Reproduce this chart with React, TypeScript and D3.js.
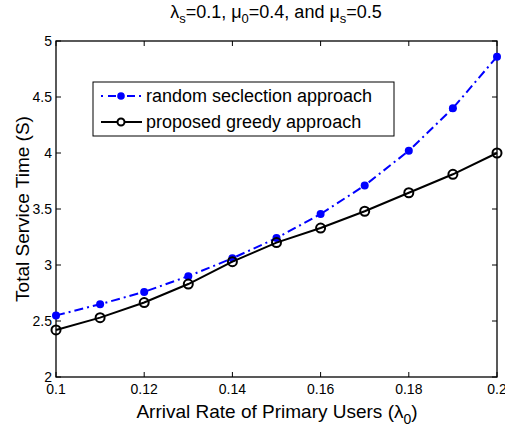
import * as d3 from "d3";

const xs = [0.1, 0.11, 0.12, 0.13, 0.14, 0.15, 0.16, 0.17, 0.18, 0.19, 0.2];
const randomApproach = [2.55, 2.65, 2.76, 2.9, 3.06, 3.24, 3.455, 3.71, 4.02, 4.4, 4.86];
const greedyApproach = [2.42, 2.53, 2.665, 2.83, 3.03, 3.2, 3.33, 3.48, 3.645, 3.81, 4.0];
const xTicks = [0.1, 0.12, 0.14, 0.16, 0.18, 0.2];
const yTicks = [2, 2.5, 3, 3.5, 4, 4.5, 5];
const legendLabels = ["random seclection approach", "proposed greedy approach"];

export default function App() {
  const width = 505,
    height = 426;
  const m = { left: 56, right: 497, top: 41, bottom: 377 };
  const x = d3.scaleLinear().domain([0.1, 0.2]).range([m.left, m.right]);
  const y = d3.scaleLinear().domain([2, 5]).range([m.bottom, m.top]);
  const line = d3
    .line<number>()
    .x((_, i) => x(xs[i]))
    .y((d) => y(d));
  const font = "Liberation Sans, Arial, Helvetica, sans-serif";
  const tl = 5;

  return (
    <svg
      width={width}
      height={height}
      style={{ position: "absolute", left: 0, top: 0, background: "#fff" }}
      fontFamily={font}
    >
      <rect x={0} y={0} width={width} height={height} fill="#fff" />
      {/* title */}
      <text x={276} y={18} textAnchor="middle" fontSize={18}>
        λ<tspan fontSize={13} dy={5}>s</tspan>
        <tspan dy={-5}>=0.1, μ</tspan>
        <tspan fontSize={13} dy={5}>0</tspan>
        <tspan dy={-5}>=0.4, and μ</tspan>
        <tspan fontSize={13} dy={5}>s</tspan>
        <tspan dy={-5}>=0.5</tspan>
      </text>

      {/* ticks */}
      {xTicks.map((t) => (
        <g key={"x" + t}>
          <line x1={x(t)} x2={x(t)} y1={m.bottom} y2={m.bottom - tl} stroke="#000" />
          <line x1={x(t)} x2={x(t)} y1={m.top} y2={m.top + tl} stroke="#000" />
          <text x={x(t)} y={m.bottom + 17} textAnchor="middle" fontSize={14}>
            {t === 0.2 ? "0.2" : t === 0.1 ? "0.1" : t.toFixed(2)}
          </text>
        </g>
      ))}
      {yTicks.map((t) => (
        <g key={"y" + t}>
          <line x1={m.left} x2={m.left + tl} y1={y(t)} y2={y(t)} stroke="#000" />
          <line x1={m.right} x2={m.right - tl} y1={y(t)} y2={y(t)} stroke="#000" />
          <text x={m.left - 4} y={y(t) + 5} textAnchor="end" fontSize={14}>
            {t}
          </text>
        </g>
      ))}
      <rect
        x={m.left}
        y={m.top}
        width={m.right - m.left}
        height={m.bottom - m.top}
        fill="none"
        stroke="#000"
        strokeWidth={1.3}
      />

      {/* series */}
      <path
        d={line(randomApproach) ?? ""}
        fill="none"
        stroke="#0000ff"
        strokeWidth={2}
        strokeDasharray="9,4,2,4"
      />
      {randomApproach.map((v, i) => (
        <circle key={"r" + i} cx={x(xs[i])} cy={y(v)} r={4} fill="#0000ff" />
      ))}
      <path d={line(greedyApproach) ?? ""} fill="none" stroke="#000" strokeWidth={2} />
      {greedyApproach.map((v, i) => (
        <circle
          key={"g" + i}
          cx={x(xs[i])}
          cy={y(v)}
          r={4.5}
          fill="none"
          stroke="#000"
          strokeWidth={2}
        />
      ))}

      {/* legend */}
      <rect x={93} y={82} width={301} height={54} fill="#fff" stroke="#000" strokeWidth={1} />
      <line x1={101} x2={142} y1={96} y2={96} stroke="#0000ff" strokeWidth={2} strokeDasharray="2,5,8,4" />
      <circle cx={121} cy={96} r={3.8} fill="#0000ff" />
      <text x={146} y={102} fontSize={18}>
        {legendLabels[0]}
      </text>
      <line x1={101} x2={142} y1={122} y2={122} stroke="#000" strokeWidth={2} />
      <circle cx={121} cy={122} r={3.5} fill="#fff" stroke="#000" strokeWidth={2} />
      <text x={146} y={128} fontSize={18}>
        {legendLabels[1]}
      </text>

      {/* axis labels */}
      <text x={277} y={418} textAnchor="middle" fontSize={19}>
        Arrival Rate of Primary Users (λ<tspan fontSize={14} dy={6}>0</tspan>
        <tspan dy={-6}>)</tspan>
      </text>
      <text
        transform={`translate(29,${(m.top + m.bottom) / 2}) rotate(-90)`}
        textAnchor="middle"
        fontSize={19}
      >
        Total Service Time (S)
      </text>
    </svg>
  );
}
